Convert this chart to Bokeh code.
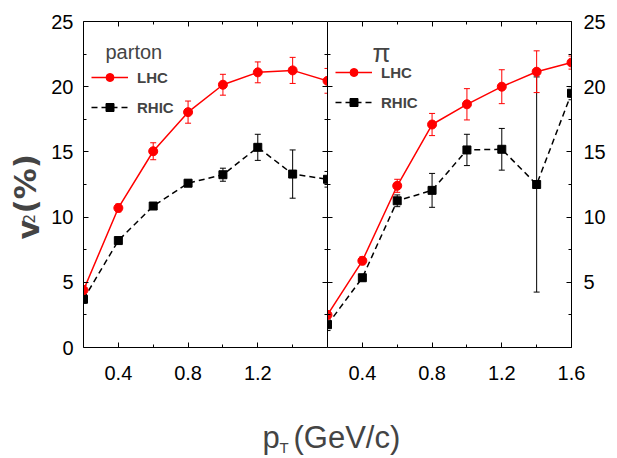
import math
from bokeh.plotting import figure
from bokeh.models import (ColumnDataSource, Whisker, LinearAxis, FixedTicker, Range1d,
                          Label, Legend, LegendItem, TeeHead, CustomLabelingPolicy)
from bokeh.layouts import column, row
from bokeh.embed import file_html
from bokeh.resources import INLINE

# ---------------- data ----------------
pt = [0.2, 0.4, 0.6, 0.8, 1.0, 1.2, 1.4, 1.6]
parton_lhc = [4.4, 10.7, 15.05, 18.05, 20.15, 21.1, 21.25, 20.45]
parton_lhc_err = [0.35, 0.3, 0.65, 0.85, 0.8, 0.8, 1.0, 0.95]
parton_rhic = [3.7, 8.2, 10.85, 12.6, 13.25, 15.35, 13.3, 12.9]
parton_rhic_err = [0.3, 0.25, 0.25, 0.25, 0.5, 1.0, 1.85, 0.6]
pion_lhc = [2.5, 6.65, 12.4, 17.1, 18.65, 20.0, 21.15, 21.85]
pion_lhc_err = [0.3, 0.3, 0.5, 0.85, 1.2, 1.3, 1.6, 0.5]
pion_rhic = [1.75, 5.35, 11.25, 12.05, 15.15, 15.2, 12.5, 19.5]
pion_rhic_err = [0.45, 0.25, 0.45, 1.3, 1.2, 1.6, 8.25, 0.5]

left_xticks = [0.4, 0.8, 1.2]
left_xminor = [0.6, 1.0, 1.4]
right_xticks = [0.4, 0.8, 1.2, 1.6]
right_xminor = [0.6, 1.0, 1.4]
yticks = [0, 5, 10, 15, 20, 25]
yminor = [2.5, 7.5, 12.5, 17.5, 22.5]

FONT = "Liberation Sans"
RED = "#ff0000"

NO_LABELS = "const all = [...indices]; for (const i of all) { indices.unset(i) }; return indices"


def style_axis(ax, labels=True, size="20px", standoff=10):
    ax.axis_line_color = "black"
    ax.axis_line_width = 1
    ax.major_tick_in = 5
    ax.major_tick_out = 0
    ax.minor_tick_in = 3
    ax.minor_tick_out = 0
    ax.major_tick_line_color = "black"
    ax.minor_tick_line_color = "black"
    if labels:
        ax.major_label_text_font = FONT
        ax.major_label_text_font_size = size
        ax.major_label_text_color = "black"
        ax.major_label_standoff = standoff
    else:
        ax.major_label_policy = CustomLabelingPolicy(code=NO_LABELS)
        ax.major_label_text_font_size = "0px"
        ax.major_label_standoff = 0
        ax.axis_label_standoff = 0


def panel(width, mbl, mbr, lhc, lhc_err, rhic, rhic_err, xt, xm, ylabels_side):
    p = figure(width=width, height=400, x_range=Range1d(0.2, 1.6), y_range=Range1d(0, 25),
               output_backend="svg", toolbar_location=None,
               x_axis_location=None, y_axis_location=None,
               min_border_left=mbl, min_border_right=mbr, min_border_top=21, min_border_bottom=53)
    p.outline_line_color = None
    p.grid.visible = False
    p.background_fill_color = "white"
    p.border_fill_color = "white"

    xb = LinearAxis(ticker=FixedTicker(ticks=xt, minor_ticks=xm))
    style_axis(xb, True, "20px", 18)
    p.add_layout(xb, "below")
    xa = LinearAxis(ticker=FixedTicker(ticks=xt, minor_ticks=xm))
    style_axis(xa, False)
    p.add_layout(xa, "above")

    yl = LinearAxis(ticker=FixedTicker(ticks=yticks, minor_ticks=yminor))
    yr = LinearAxis(ticker=FixedTicker(ticks=yticks, minor_ticks=yminor))
    if ylabels_side == "left":
        style_axis(yl, True, "20px", 10)
        style_axis(yr, False)
    else:
        style_axis(yl, False)
        style_axis(yr, True, "20px", 12)
        yr.major_label_overrides = {0: ""}
    p.add_layout(yl, "left")
    p.add_layout(yr, "right")

    src_l = ColumnDataSource(dict(x=pt, y=lhc,
                                  lo=[a - b for a, b in zip(lhc, lhc_err)],
                                  hi=[a + b for a, b in zip(lhc, lhc_err)]))
    src_r = ColumnDataSource(dict(x=pt, y=rhic,
                                  lo=[a - b for a, b in zip(rhic, rhic_err)],
                                  hi=[a + b for a, b in zip(rhic, rhic_err)]))

    for src, col in ((src_r, "black"), (src_l, RED)):
        w = Whisker(source=src, base="x", upper="hi", lower="lo", line_color=col, line_width=1,
                    upper_head=TeeHead(size=6, line_color=col, line_width=1),
                    lower_head=TeeHead(size=6, line_color=col, line_width=1))
        p.add_layout(w)

    r_line = p.line("x", "y", source=src_r, line_color="black", line_width=1.5, line_dash="6 4")
    r_sc = p.scatter("x", "y", source=src_r, marker="square", size=8, fill_color="black",
                     line_color="black")
    l_line = p.line("x", "y", source=src_l, line_color=RED, line_width=1.5)
    l_sc = p.scatter("x", "y", source=src_l, marker="circle", size=9, fill_color=RED,
                     line_color=RED)
    return p, (l_line, l_sc), (r_line, r_sc)


p1, l1, r1 = panel(281, 37, 0, parton_lhc, parton_lhc_err, parton_rhic, parton_rhic_err,
                   left_xticks, left_xminor, "left")
p2, l2, r2 = panel(290, 0, 46, pion_lhc, pion_lhc_err, pion_rhic, pion_rhic_err,
                   right_xticks, right_xminor, "right")


def add_legend(p, l, r, loc):
    leg = Legend(items=[LegendItem(label="LHC", renderers=list(l)),
                        LegendItem(label="RHIC", renderers=list(r))],
                 location=loc, glyph_width=37, glyph_height=20, label_height=20,
                 label_standoff=9, spacing=10, padding=0, margin=0,
                 border_line_alpha=0, background_fill_alpha=0,
                 label_text_font=FONT, label_text_font_style="bold",
                 label_text_font_size="15px")
    p.add_layout(leg)


add_legend(p1, l1, r1, (8, 230))
add_legend(p2, l2, r2, (8, 235))

# screen units below are relative to each frame (x from left, y from bottom)
p1.add_layout(Label(x=22, y=296, x_units="screen", y_units="screen", text="parton",
                    text_font=FONT, text_font_size="20px", text_baseline="alphabetic"))
p2.add_layout(Label(x=45, y=295, x_units="screen", y_units="screen", text="π",
                    text_font=FONT, text_font_size="26px", text_baseline="alphabetic"))


def blank(width, height):
    f = figure(width=width, height=height, output_backend="svg", toolbar_location=None,
               title=None, x_axis_location=None, y_axis_location=None,
               min_border_left=0, min_border_right=0, min_border_top=0, min_border_bottom=0)
    f.outline_line_color = None
    f.grid.visible = False
    return f


# y axis title (own narrow strip on the left)
p0 = blank(46, 400)
ang = math.pi / 2
p0.add_layout(Label(x=28, y=108, x_units="screen", y_units="screen", text="v",
                    angle=ang, text_font="DejaVu Sans", text_font_style="bold",
                    text_font_size="30px", text_baseline="alphabetic"))
p0.add_layout(Label(x=28, y=124, x_units="screen", y_units="screen", text="2",
                    angle=ang, text_font="DejaVu Sans", text_font_size="15px",
                    text_baseline="alphabetic"))
p0.add_layout(Label(x=24, y=134, x_units="screen", y_units="screen", text="(%)",
                    angle=ang, text_font="DejaVu Sans", text_font_style="bold",
                    text_font_size="31px", text_baseline="alphabetic"))

# x axis title
p3 = blank(617, 58)
p3.add_layout(Label(x=262, y=21, x_units="screen", y_units="screen", text="p",
                    text_font=FONT, text_font_size="31px", text_baseline="alphabetic"))
p3.add_layout(Label(x=279, y=11, x_units="screen", y_units="screen", text="T",
                    text_font=FONT, text_font_size="15px", text_baseline="alphabetic"))
p3.add_layout(Label(x=293, y=21, x_units="screen", y_units="screen", text="(GeV/c)",
                    text_font=FONT, text_font_size="31px", text_baseline="alphabetic"))

layout = column(row(p0, p1, p2, spacing=0), p3, spacing=0)
open("out.html", "w").write(file_html(layout, INLINE))
